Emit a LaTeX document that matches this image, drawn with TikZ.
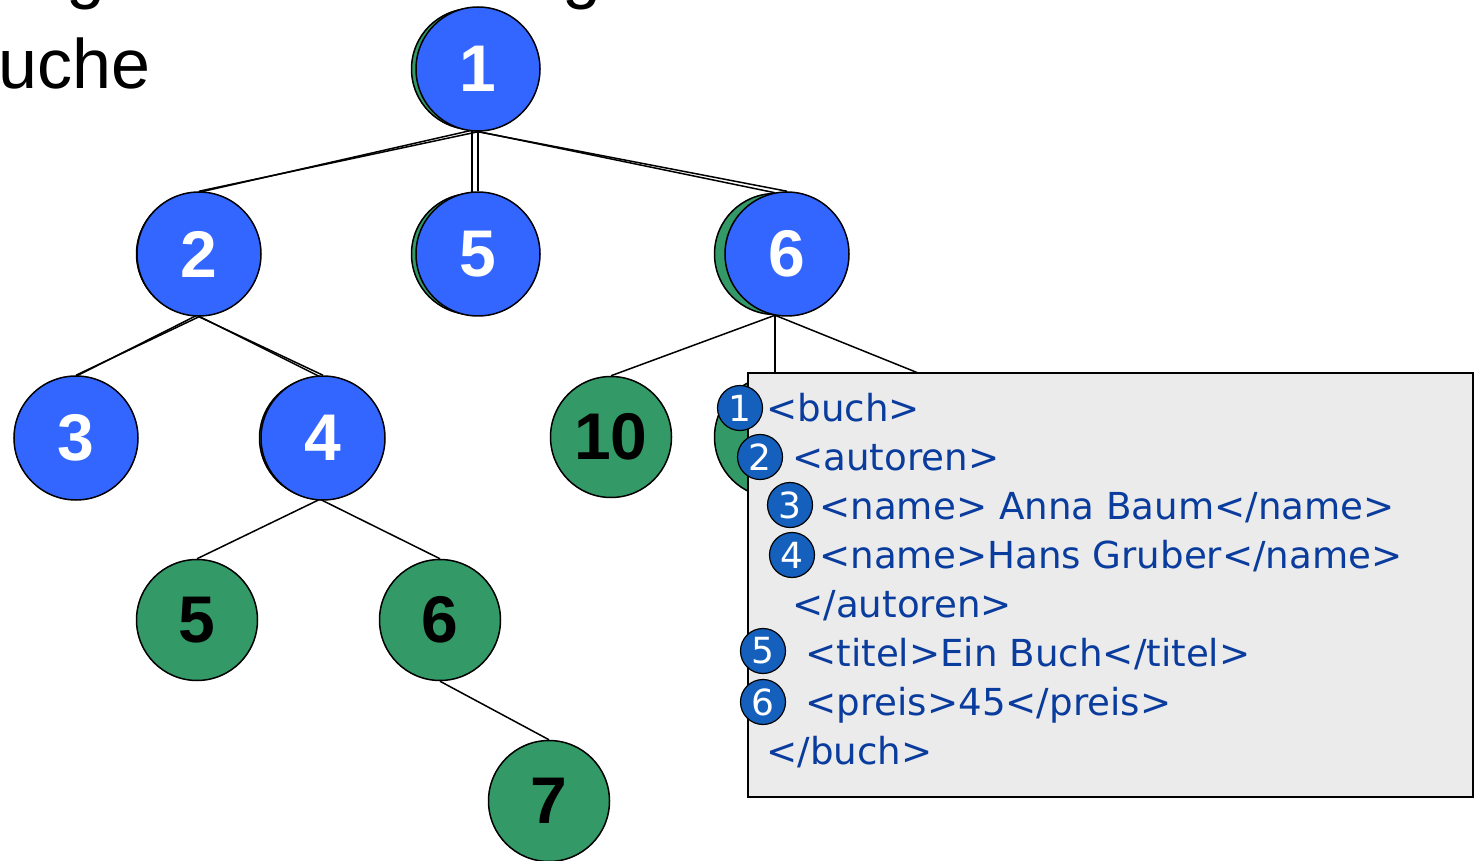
\documentclass[tikz,border=0pt]{standalone}
\usepackage{fontspec}
\setmainfont{Liberation Sans}
\newfontfamily\xmlfont{DejaVu Sans}
\definecolor{knotenblau}{HTML}{3366FF}
\definecolor{knotengruen}{HTML}{339966}
\definecolor{markenblau}{HTML}{1560BD}
\definecolor{xmlblau}{HTML}{0A3C9E}
\definecolor{kastengrau}{HTML}{EBEBEB}

\begin{document}
\begin{tikzpicture}[x=0.5pt, y=-0.5pt,
    gruen/.style={circle, draw, line width=0.75pt, fill=knotengruen, minimum size=60.5pt, inner sep=0pt,
        font=\fontsize{33}{33}\selectfont\bfseries},
    blau/.style={circle, draw, line width=0.75pt, fill=knotenblau, minimum size=62pt, inner sep=0pt,
        text=white, font=\fontsize{33}{33}\selectfont\bfseries},
    kante/.style={line width=0.75pt},
    marke/.style={circle, draw, line width=0.6pt, fill=markenblau, minimum size=22.5pt, inner sep=0pt,
        text=white, font=\xmlfont\fontsize{18}{18}\selectfont},
    zeile/.style={anchor=base west, inner sep=0pt, text=xmlblau, font=\xmlfont\fontsize{18.6}{18.6}\selectfont},
    titel/.style={anchor=base west, inner sep=0pt, font=\fontsize{35}{35}\selectfont}]
    \useasboundingbox (0,0) rectangle (1478,861);
    \clip (0,0) rectangle (1478,861);

    % Ueberschrift, oben abgeschnitten
    \node[titel] (ueb1) at (66,-4) {g};
    \node[titel] (ueb2) at (562,-4) {g};
    \node[titel] (ueb3) at (-2,89) {uche};

    % gruener Baum
    \node[gruen] (g1) at (472,69) {};
    \node[gruen] (g2) at (197,254) {};
    \node[gruen] (g5) at (472,254) {};
    \node[gruen] (g6) at (775,254) {};
    \node[gruen] (g3) at (75,438) {};
    \node[gruen] (g4) at (320,438) {};
    \node[gruen] (g10) at (611,437) {10};
    \node[gruen] (gm) at (775,437) {};
    \node[gruen] (gr) at (925,437) {};
    \node[gruen] (g4a) at (197,620) {5};
    \node[gruen] (g4b) at (440,620) {6};
    \node[gruen] (g7) at (549,801) {7};
    \draw[kante] (g1.south) -- (g2.north);
    \draw[kante] (g1.south) -- (g5.north);
    \draw[kante] (g1.south) -- (g6.north);
    \draw[kante] (g2.south) -- (g3.north);
    \draw[kante] (g2.south) -- (g4.north);
    \draw[kante] (g4.south) -- (g4a.north);
    \draw[kante] (g4.south) -- (g4b.north);
    \draw[kante] (g4b.south) -- (g7.north);
    \draw[kante] (g6.south) -- (g10.north);
    \draw[kante] (g6.south) -- (gm.north);
    \draw[kante] (g6.south) -- (gr.north);

    % besuchte Knoten
    \node[blau] (b1) at (478,69) {1};
    \node[blau] (b2) at (199,254) {2};
    \node[blau] (b5) at (478,254) {5};
    \node[blau] (b6) at (787,254) {6};
    \node[blau] (b3) at (76,438) {3};
    \node[blau] (b4) at (323,438) {4};
    \draw[kante] (b1.south) -- (b2.north);
    \draw[kante] (b1.south) -- (b5.north);
    \draw[kante] (b1.south) -- (b6.north);
    \draw[kante] (b2.south) -- (b3.north);
    \draw[kante] (b2.south) -- (b4.north);

    % XML-Dokument
    \node[draw, line width=1.2pt, fill=kastengrau, minimum width=362.5pt, minimum height=212pt,
        inner sep=0pt] (xml) at (1110.5,585) {};
    \foreach \n/\x/\y in {1/740/408, 2/760/457, 3/790/505, 4/792/555, 5/763/651, 6/763/702}
        \node[marke] (m\n) at (\x,\y) {\n};
    \node[zeile] (z1) at (766,421) {<buch>};
    \node[zeile] (z2) at (792,470) {<autoren>};
    \node[zeile] (z3) at (819,519) {<name> Anna Baum</name>};
    \node[zeile] (z4) at (819,568) {<name>Hans Gruber</name>};
    \node[zeile] (z5) at (792,617) {</autoren>};
    \node[zeile] (z6) at (805,666) {<titel>Ein Buch</titel>};
    \node[zeile] (z7) at (805,715) {<preis>45</preis>};
    \node[zeile] (z8) at (766,764) {</buch>};
\end{tikzpicture}
\end{document}
